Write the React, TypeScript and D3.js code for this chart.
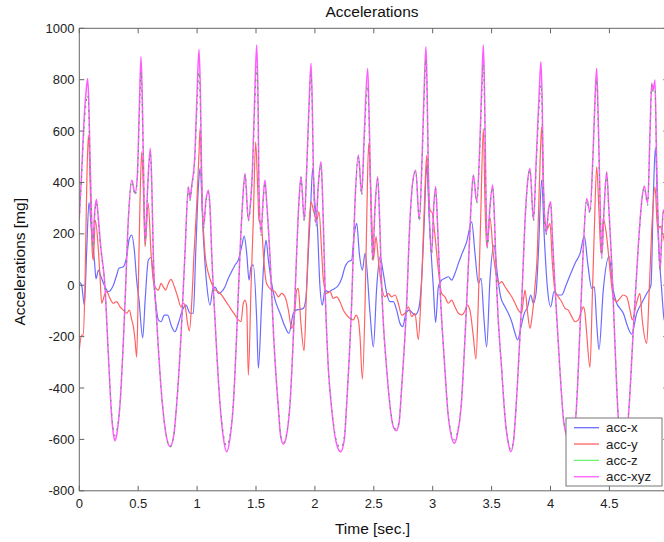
import React from "react";
import * as d3 from "d3";

// ---- data (time [s], acceleration [mg]) ----
const accX: [number, number][] = [
  [0,14],[0.02,0],[0.043,-77],[0.063,137],[0.082,322],[0.105,202],[0.128,98],[0.142,25],[0.162,59],[0.184,33],[0.218,-6],[0.246,-25],[0.289,0],[0.317,39],[0.337,66],[0.374,72],[0.402,111],[0.422,176],[0.445,195],[0.467,137],[0.487,20],[0.507,-58],[0.538,-205],[0.56,-50],[0.586,98],[0.609,108],[0.643,-45],[0.671,-135],[0.694,-142],[0.722,-116],[0.75,-116],[0.784,-161],[0.812,-181],[0.841,-148],[0.875,-97],[0.906,-77],[0.94,-109],[0.968,-109],[0.988,124],[1.011,383],[1.025,455],[1.053,189],[1.081,7],[1.11,-77],[1.138,-6],[1.158,-10],[1.18,-32],[1.209,-25],[1.237,-6],[1.265,27],[1.293,53],[1.322,79],[1.35,98],[1.378,150],[1.4,191],[1.421,124],[1.441,20],[1.458,72],[1.477,79],[1.506,-135],[1.52,-323],[1.548,-70],[1.571,124],[1.585,176],[1.605,98],[1.633,7],[1.661,-55],[1.704,-109],[1.746,-161],[1.78,-187],[1.817,-109],[1.84,-97],[1.874,-94],[1.902,-90],[1.925,-45],[1.944,124],[1.964,306],[1.981,455],[2.0,319],[2.021,228],[2.043,-6],[2.063,-77],[2.086,-19],[2.115,-25],[2.143,-19],[2.171,-12],[2.2,0],[2.228,27],[2.256,72],[2.284,92],[2.312,98],[2.332,189],[2.355,241],[2.377,124],[2.403,59],[2.426,124],[2.468,-109],[2.496,-240],[2.525,-6],[2.553,111],[2.581,46],[2.61,-32],[2.637,-64],[2.666,-64],[2.694,-97],[2.722,-148],[2.745,-161],[2.773,-109],[2.801,-97],[2.83,-109],[2.85,-116],[2.878,-97],[2.906,20],[2.929,254],[2.949,468],[2.971,254],[3.005,-6],[3.025,-145],[3.048,-6],[3.076,20],[3.104,27],[3.133,33],[3.161,20],[3.189,46],[3.218,85],[3.25,124],[3.289,170],[3.331,247],[3.359,124],[3.388,7],[3.41,27],[3.436,-135],[3.458,-240],[3.486,20],[3.52,156],[3.548,46],[3.577,-45],[3.614,-84],[3.642,-109],[3.671,-142],[3.699,-187],[3.721,-213],[3.75,-161],[3.778,-109],[3.806,-84],[3.832,-38],[3.854,-70],[3.877,-32],[3.897,124],[3.925,410],[3.947,189],[3.973,-6],[4.002,-84],[4.03,-25],[4.058,-38],[4.095,-38],[4.132,0],[4.166,39],[4.208,85],[4.251,124],[4.287,191],[4.316,85],[4.35,-12],[4.372,-6],[4.392,-148],[4.412,-250],[4.448,-19],[4.497,111],[4.533,-19],[4.562,-70],[4.59,-90],[4.618,-109],[4.655,-161],[4.689,-190],[4.732,-109],[4.774,-70],[4.817,-32],[4.853,0],[4.873,345],[4.89,535],[4.915,189],[4.944,-19],[4.966,-135],[5.0,-150]
];

const accY: [number, number][] = [
  [0,-250],[0.02,-194],[0.034,-194],[0.048,-6],[0.063,383],[0.077,585],[0.097,319],[0.111,124],[0.119,98],[0.136,254],[0.162,137],[0.176,33],[0.19,-70],[0.218,-32],[0.232,-25],[0.26,-51],[0.289,-70],[0.317,-64],[0.346,-84],[0.374,-97],[0.402,-109],[0.425,-97],[0.445,-135],[0.459,-161],[0.473,-213],[0.487,-280],[0.501,-6],[0.515,319],[0.53,520],[0.543,383],[0.558,150],[0.585,320],[0.609,124],[0.628,20],[0.643,-6],[0.671,-19],[0.694,7],[0.713,-6],[0.733,-19],[0.756,7],[0.778,23],[0.807,-6],[0.835,-45],[0.863,-84],[0.883,-70],[0.897,-77],[0.917,-142],[0.934,-178],[0.954,-70],[0.974,124],[0.996,306],[1.016,513],[1.025,610],[1.044,319],[1.067,124],[1.096,46],[1.124,7],[1.152,-19],[1.18,-25],[1.209,-38],[1.237,-58],[1.265,-77],[1.293,-97],[1.322,-116],[1.35,-135],[1.373,-142],[1.392,-70],[1.407,-58],[1.421,-84],[1.435,-350],[1.458,-6],[1.477,254],[1.497,558],[1.514,383],[1.525,254],[1.548,228],[1.562,124],[1.59,7],[1.633,-19],[1.661,-25],[1.69,-45],[1.718,-32],[1.746,-45],[1.775,-97],[1.795,-155],[1.803,-168],[1.831,-97],[1.845,-19],[1.859,-12],[1.879,-135],[1.908,-255],[1.93,-6],[1.953,254],[1.967,325],[1.987,293],[2.015,254],[2.035,286],[2.058,124],[2.072,20],[2.1,-32],[2.128,-25],[2.156,-51],[2.185,-45],[2.213,-64],[2.242,-97],[2.27,-116],[2.299,-129],[2.327,-135],[2.349,-116],[2.369,-135],[2.383,-200],[2.403,-365],[2.426,-70],[2.44,254],[2.456,552],[2.473,383],[2.488,189],[2.496,98],[2.519,189],[2.539,98],[2.567,-6],[2.595,-45],[2.623,-32],[2.652,-45],[2.68,-38],[2.708,-70],[2.737,-116],[2.765,-109],[2.793,-84],[2.822,-122],[2.85,-109],[2.878,-212],[2.898,-70],[2.915,124],[2.935,383],[2.949,505],[2.963,383],[2.977,293],[2.997,280],[3.02,189],[3.048,59],[3.076,-32],[3.104,-45],[3.133,-70],[3.161,-58],[3.189,-84],[3.218,-109],[3.246,-115],[3.274,-100],[3.294,-77],[3.316,-97],[3.345,-200],[3.367,-288],[3.387,-70],[3.407,254],[3.43,610],[3.444,319],[3.458,150],[3.486,264],[3.514,124],[3.543,33],[3.565,7],[3.586,14],[3.614,-6],[3.642,-25],[3.671,-45],[3.699,-70],[3.727,-97],[3.755,-109],[3.77,-58],[3.784,-19],[3.803,-97],[3.826,-168],[3.84,-135],[3.868,-6],[3.888,124],[3.905,383],[3.925,617],[3.939,383],[3.953,254],[3.968,215],[3.996,241],[4.016,85],[4.038,-19],[4.066,-45],[4.095,-64],[4.123,-90],[4.151,-97],[4.18,-122],[4.208,-142],[4.236,-135],[4.265,-97],[4.279,-84],[4.293,-109],[4.307,-187],[4.335,-320],[4.355,-45],[4.372,215],[4.392,462],[4.412,280],[4.429,124],[4.448,260],[4.477,189],[4.505,59],[4.533,-45],[4.562,-64],[4.59,-51],[4.618,-38],[4.647,-45],[4.675,-97],[4.694,-135],[4.723,-84],[4.745,-45],[4.759,-32],[4.779,-135],[4.817,-226],[4.836,-45],[4.859,215],[4.887,383],[4.91,215],[4.93,230],[4.958,189],[5.0,100]
];

const accZ: [number, number][] = [
  [0,255],[0.02,430],[0.04,610],[0.055,700],[0.071,740],[0.08,690],[0.091,480],[0.105,240],[0.115,150],[0.13,270],[0.145,320],[0.16,260],[0.18,150],[0.218,-10],[0.246,-262],[0.275,-500],[0.29,-565],[0.303,-585],[0.318,-565],[0.346,-455],[0.388,-70],[0.416,250],[0.445,405],[0.473,350],[0.492,410],[0.51,660],[0.524,830],[0.535,690],[0.543,500],[0.56,160],[0.58,370],[0.603,510],[0.615,390],[0.628,120],[0.657,-135],[0.705,-460],[0.74,-590],[0.77,-630],[0.8,-590],[0.827,-460],[0.863,-200],[0.897,120],[0.926,380],[0.94,330],[0.955,385],[0.98,480],[1.0,700],[1.016,830],[1.028,700],[1.039,400],[1.054,220],[1.075,320],[1.096,360],[1.11,290],[1.124,120],[1.152,-135],[1.194,-455],[1.225,-585],[1.251,-625],[1.278,-585],[1.308,-455],[1.341,-135],[1.364,120],[1.387,325],[1.407,430],[1.435,250],[1.455,320],[1.47,440],[1.49,700],[1.506,850],[1.518,680],[1.525,375],[1.543,195],[1.56,320],[1.576,400],[1.59,320],[1.62,95],[1.65,-200],[1.69,-475],[1.71,-585],[1.733,-612],[1.757,-585],[1.789,-455],[1.823,-135],[1.845,120],[1.865,325],[1.882,420],[1.91,250],[1.93,440],[1.95,680],[1.967,820],[1.978,680],[1.987,440],[2.009,230],[2.03,390],[2.052,470],[2.065,340],[2.086,-10],[2.115,-330],[2.14,-465],[2.18,-600],[2.219,-632],[2.25,-590],[2.27,-455],[2.312,-70],[2.34,315],[2.369,500],[2.397,350],[2.42,570],[2.448,775],[2.458,680],[2.468,475],[2.49,95],[2.51,290],[2.533,415],[2.55,245],[2.567,-10],[2.61,-330],[2.64,-475],[2.665,-545],[2.689,-560],[2.713,-535],[2.737,-392],[2.779,-70],[2.807,250],[2.83,395],[2.856,445],[2.886,250],[2.91,480],[2.93,760],[2.943,880],[2.953,730],[2.963,440],[2.991,120],[3.008,295],[3.025,375],[3.04,245],[3.062,-10],[3.104,-330],[3.13,-495],[3.16,-580],[3.184,-602],[3.21,-570],[3.24,-475],[3.28,-150],[3.31,145],[3.33,345],[3.345,425],[3.374,320],[3.4,530],[3.418,760],[3.43,860],[3.44,720],[3.451,375],[3.463,145],[3.485,295],[3.509,380],[3.525,245],[3.543,-10],[3.586,-330],[3.615,-515],[3.64,-605],[3.662,-640],[3.685,-605],[3.718,-392],[3.755,-70],[3.784,250],[3.805,395],[3.826,450],[3.855,250],[3.88,480],[3.905,700],[3.919,780],[3.93,660],[3.939,400],[3.962,195],[3.985,295],[4.002,318],[4.015,195],[4.038,-10],[4.08,-330],[4.109,-512],[4.14,-580],[4.165,-595],[4.19,-570],[4.214,-512],[4.25,-172],[4.279,145],[4.307,330],[4.335,280],[4.36,490],[4.38,730],[4.392,800],[4.405,630],[4.42,335],[4.435,105],[4.455,295],[4.477,435],[4.495,295],[4.52,80],[4.548,-239],[4.576,-512],[4.6,-580],[4.62,-600],[4.64,-580],[4.66,-512],[4.703,-172],[4.745,145],[4.775,325],[4.796,380],[4.825,312],[4.845,590],[4.859,780],[4.872,750],[4.887,760],[4.9,480],[4.915,205],[4.93,55],[4.945,195],[4.958,285],[4.98,245],[5.0,145]
];

const accXYZ: [number, number][] = [
  [0,262],[0.02,440],[0.04,640],[0.055,740],[0.071,805],[0.08,720],[0.091,500],[0.105,250],[0.115,160],[0.13,280],[0.145,335],[0.16,270],[0.18,160],[0.218,-6],[0.246,-265],[0.275,-512],[0.29,-580],[0.303,-605],[0.318,-580],[0.346,-460],[0.388,-70],[0.416,254],[0.445,410],[0.473,358],[0.492,420],[0.51,700],[0.524,889],[0.535,720],[0.543,513],[0.56,170],[0.58,380],[0.603,533],[0.615,400],[0.628,124],[0.657,-135],[0.705,-460],[0.74,-590],[0.77,-628],[0.8,-590],[0.827,-460],[0.863,-200],[0.897,124],[0.926,383],[0.94,335],[0.955,390],[0.98,500],[1.0,750],[1.016,918],[1.028,750],[1.039,410],[1.054,228],[1.075,330],[1.096,370],[1.11,300],[1.124,124],[1.152,-135],[1.194,-460],[1.225,-600],[1.251,-648],[1.278,-600],[1.308,-460],[1.341,-135],[1.364,124],[1.387,331],[1.407,435],[1.435,254],[1.455,330],[1.47,450],[1.49,750],[1.506,935],[1.518,700],[1.525,383],[1.543,203],[1.56,330],[1.576,410],[1.59,330],[1.62,100],[1.65,-200],[1.69,-480],[1.71,-590],[1.733,-618],[1.757,-590],[1.789,-460],[1.823,-135],[1.845,124],[1.865,330],[1.882,422],[1.91,254],[1.93,450],[1.95,700],[1.967,864],[1.978,700],[1.987,448],[2.009,241],[2.03,400],[2.052,481],[2.065,350],[2.086,-6],[2.115,-330],[2.14,-470],[2.18,-610],[2.219,-648],[2.25,-600],[2.27,-460],[2.312,-70],[2.34,319],[2.369,507],[2.397,358],[2.42,600],[2.448,844],[2.458,700],[2.468,487],[2.49,98],[2.51,300],[2.533,422],[2.55,250],[2.567,-6],[2.61,-330],[2.64,-480],[2.665,-550],[2.689,-566],[2.713,-540],[2.737,-395],[2.779,-70],[2.807,254],[2.83,400],[2.856,448],[2.886,254],[2.91,500],[2.93,800],[2.943,928],[2.953,750],[2.963,448],[2.991,124],[3.008,300],[3.025,383],[3.04,250],[3.062,-6],[3.104,-330],[3.13,-500],[3.16,-590],[3.184,-615],[3.21,-580],[3.24,-480],[3.28,-150],[3.31,150],[3.33,350],[3.345,429],[3.374,325],[3.4,550],[3.418,800],[3.43,935],[3.44,750],[3.451,383],[3.463,150],[3.485,300],[3.509,390],[3.525,250],[3.543,-6],[3.586,-330],[3.615,-520],[3.64,-610],[3.662,-648],[3.685,-610],[3.718,-395],[3.755,-70],[3.784,254],[3.805,400],[3.826,455],[3.855,254],[3.88,500],[3.905,760],[3.919,870],[3.93,700],[3.939,410],[3.962,202],[3.985,300],[4.002,325],[4.015,200],[4.038,-6],[4.08,-330],[4.109,-518],[4.14,-590],[4.165,-605],[4.19,-580],[4.214,-518],[4.25,-174],[4.279,150],[4.307,338],[4.335,286],[4.36,500],[4.38,750],[4.392,844],[4.405,650],[4.42,345],[4.435,111],[4.455,300],[4.477,442],[4.495,300],[4.52,85],[4.548,-239],[4.576,-518],[4.6,-590],[4.62,-610],[4.64,-590],[4.66,-518],[4.703,-174],[4.745,150],[4.775,330],[4.796,386],[4.825,319],[4.845,600],[4.859,786],[4.872,760],[4.887,799],[4.9,500],[4.915,215],[4.93,59],[4.945,200],[4.958,293],[4.98,250],[5.0,150]
];

const xTicks = [0, 0.5, 1, 1.5, 2, 2.5, 3, 3.5, 4, 4.5, 5];
const yTicks = [-800, -600, -400, -200, 0, 200, 400, 600, 800, 1000];
const seriesNames = ["acc-x", "acc-y", "acc-z", "acc-xyz"];
const seriesColors = ["#6b6bff", "#ff6262", "#6cf26c", "#ff5cff"];

const W = 664, H = 542;
const L = 79.3, R = 668.3, T = 28.3, B = 490.8;

export default function App() {
  const x = d3.scaleLinear().domain([0, 5]).range([L, R]);
  const y = d3.scaleLinear().domain([-800, 1000]).range([B, T]);
  const line = d3.line<[number, number]>().x(d => x(d[0])).y(d => y(d[1])).curve(d3.curveMonotoneX);
  const font = "'Liberation Sans', Arial, Helvetica, sans-serif";
  const axisColor = "#666";
  const tickLen = 5;
  const legX = 566, legY = 418, legW = 96, legH = 68;
  return (
    <svg width={W} height={H} style={{ position: "absolute", left: 0, top: 0, background: "#fff" }} fontFamily={font}>
      <defs>
        <clipPath id="plotclip"><rect x={L} y={T} width={R - L} height={B - T} /></clipPath>
      </defs>
      <rect x={0} y={0} width={W} height={H} fill="#fff" />
      <g clipPath="url(#plotclip)" fill="none" strokeLinejoin="round">
        <path d={line(accX) || ""} stroke={seriesColors[0]} strokeWidth={1.2} />
        <path d={line(accY) || ""} stroke={seriesColors[1]} strokeWidth={1.2} />
        <path d={line(accXYZ) || ""} stroke={seriesColors[3]} strokeWidth={1.5} />
        <path d={line(accZ) || ""} stroke="#6a9c6a" strokeWidth={1.2} strokeDasharray="2 5" />
      </g>
      {/* axes box */}
      <rect x={L} y={T} width={R - L} height={B - T} fill="none" stroke={axisColor} strokeWidth={1} />
      {xTicks.map(t => (
        <g key={"xt" + t}>
          <line x1={x(t)} x2={x(t)} y1={B} y2={B - tickLen} stroke={axisColor} />
          <line x1={x(t)} x2={x(t)} y1={T} y2={T + tickLen} stroke={axisColor} />
          {t < 5 && (
            <text x={x(t)} y={508} textAnchor="middle" fontSize={13} fill="#222">{String(t)}</text>
          )}
        </g>
      ))}
      {yTicks.map(v => (
        <g key={"yt" + v}>
          <line x1={L} x2={L + tickLen} y1={y(v)} y2={y(v)} stroke={axisColor} />
          <line x1={R} x2={R - tickLen} y1={y(v)} y2={y(v)} stroke={axisColor} />
          <text x={74.5} y={y(v) + 4.6} textAnchor="end" fontSize={13} fill="#222">{String(v)}</text>
        </g>
      ))}
      <text x={372} y={16.5} textAnchor="middle" fontSize={15.5} fill="#111">Accelerations</text>
      <text x={372.5} y={534} textAnchor="middle" fontSize={15.5} fill="#111">Time [sec.]</text>
      <text transform={`translate(24.5,${261.8}) rotate(-90)`} textAnchor="middle" fontSize={15.5} fill="#111">Accelerations [mg]</text>
      {/* legend */}
      <rect x={legX} y={legY} width={legW} height={legH} fill="#fff" stroke="#777" strokeWidth={1} />
      {seriesNames.map((n, i) => (
        <g key={n}>
          <line x1={574} x2={599} y1={427.7 + i * 16.35} y2={427.7 + i * 16.35} stroke={seriesColors[i]} strokeWidth={1.3} />
          <text x={606} y={427.7 + i * 16.35 + 4.6} fontSize={13.3} fill="#222">{n}</text>
        </g>
      ))}
    </svg>
  );
}
